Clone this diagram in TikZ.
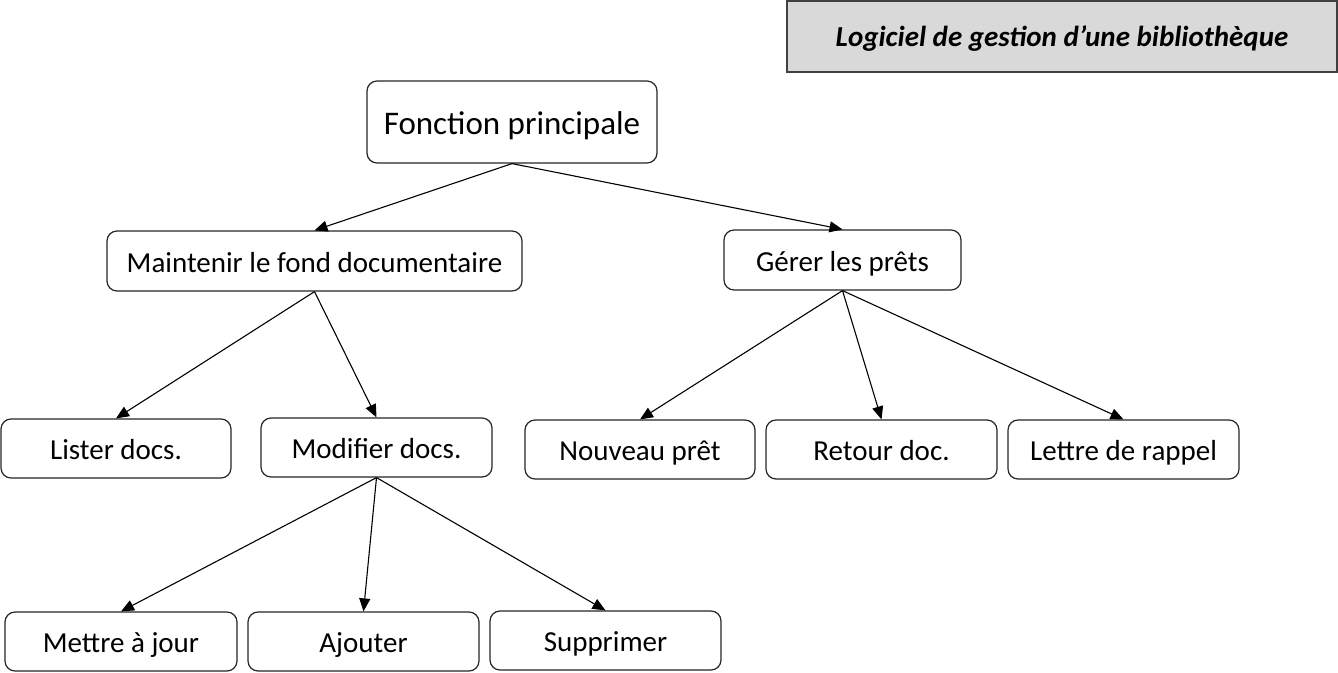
\documentclass[tikz,border=0pt]{standalone}
\usepackage{fontspec}
\setmainfont{Carlito}
\usetikzlibrary{arrows.meta}
\begin{document}
\begin{tikzpicture}[x=1pt,y=-1pt,
  box/.style={draw=black!85,line width=1.2pt,rounded corners=10pt,fill=white,
    inner sep=0pt,anchor=center,font=\fontsize{29}{34}\selectfont,text height=22pt,text depth=0pt},
  link/.style={draw=black,line width=1.1pt,-{Triangle[length=13pt,width=11pt]}}]
\useasboundingbox (0,0) rectangle (1338,672);
\node[draw=black!75,line width=1.2pt,fill=black!15,minimum width=550pt,minimum height=71pt,inner sep=0pt,
  text height=19pt,text depth=0pt,
  font=\fontsize{29}{34}\selectfont\bfseries\itshape] (title) at (1062,36.5) {Logiciel de gestion d’une bibliothèque};
\node[box,minimum width=290pt,minimum height=82pt,font=\fontsize{33}{38}\selectfont,text height=24pt,text depth=0pt] (fp) at (512,122) {Fonction principale};
\node[box,minimum width=415pt,minimum height=60pt] (mf) at (314.5,261) {Maintenir le fond documentaire};
\node[box,minimum width=237pt,minimum height=60pt] (gp) at (842.5,260) {Gérer les prêts};
\node[box,minimum width=230pt,minimum height=59pt] (ld) at (116,448.5) {Lister docs.};
\node[box,minimum width=231pt,minimum height=59pt] (md) at (376.5,447.5) {Modifier docs.};
\node[box,minimum width=230pt,minimum height=59pt] (np) at (640,449.5) {Nouveau prêt};
\node[box,minimum width=231pt,minimum height=59pt] (rd) at (881.5,449.5) {Retour doc.};
\node[box,minimum width=231pt,minimum height=59pt] (lr) at (1123.5,449.5) {Lettre de rappel};
\node[box,minimum width=232pt,minimum height=59pt] (mj) at (121,641.5) {Mettre à jour};
\node[box,minimum width=231pt,minimum height=59pt] (aj) at (363.5,641.5) {Ajouter};
\node[box,minimum width=231pt,minimum height=59pt] (su) at (605.5,640.5) {Supprimer};
\draw[link] (fp.south) -- (mf.north);
\draw[link] (fp.south) -- (gp.north);
\draw[link] (mf.south) -- (ld.north);
\draw[link] (mf.south) -- (md.north);
\draw[link] (gp.south) -- (np.north);
\draw[link] (gp.south) -- (rd.north);
\draw[link] (gp.south) -- (lr.north);
\draw[link] (md.south) -- (mj.north);
\draw[link] (md.south) -- (aj.north);
\draw[link] (md.south) -- (su.north);
\end{tikzpicture}
\end{document}
